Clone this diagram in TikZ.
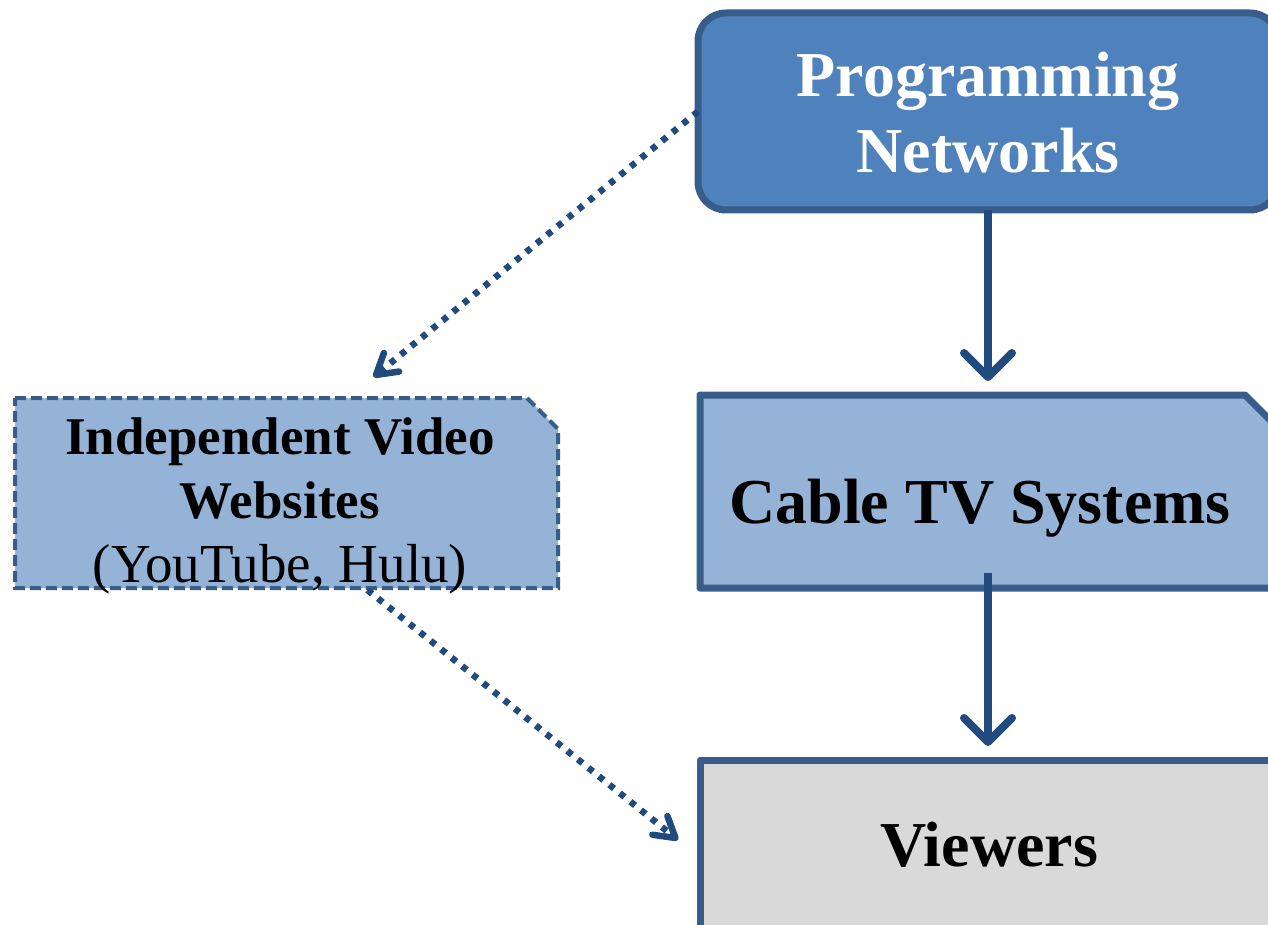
\documentclass[tikz,border=0pt]{standalone}
\usepackage{fontspec}
\setmainfont{Liberation Serif}
\usetikzlibrary{arrows.meta,calc}
\definecolor{bord}{RGB}{56,93,138}
\definecolor{progfill}{RGB}{79,129,189}
\definecolor{lightfill}{RGB}{149,179,215}
\definecolor{greyfill}{RGB}{217,217,217}
\definecolor{arrowc}{RGB}{33,74,126}
\begin{document}
\begin{tikzpicture}[x=1pt,y=-1pt,
  boxframe/.style={draw=none,inner sep=0pt,outer sep=0pt,rectangle},
  solidbox/.style={draw=bord,line width=7pt,line join=round},
  dashbox/.style={draw=bord,line width=4pt,dash pattern=on 11pt off 5pt},
  bigtxt/.style={font=\fontsize{64}{76}\selectfont\bfseries,anchor=base,inner sep=0pt},
  midtxt/.style={font=\fontsize{53}{62}\selectfont\bfseries,anchor=base,inner sep=0pt},
  midreg/.style={font=\fontsize{55}{62}\selectfont,anchor=base,inner sep=0pt},
  solidarrow/.style={draw=arrowc,line width=8pt,-{Straight Barb[length=24pt,width=48pt,round]}},
  dotarrow/.style={draw=arrowc,line width=6.5pt,dash pattern=on 6pt off 7.5pt,-{Straight Barb[length=20pt,width=24pt,round]}}
]
\useasboundingbox (0,0) rectangle (1268,925);
\clip (0,0) rectangle (1268,925);

% boxes
\node[boxframe,minimum width=580pt,minimum height=197pt] (prog) at (988,111.5) {};
\node[boxframe,minimum width=578pt,minimum height=193pt] (cable) at (989,491.5) {};
\node[boxframe,minimum width=543pt,minimum height=190pt] (indep) at (286.5,493) {};
\node[boxframe,minimum width=578pt,minimum height=200pt] (viewers) at (989,860) {};

\draw[solidbox,fill=progfill,rounded corners=28pt] (prog.north west) rectangle (prog.south east);
\draw[solidbox,fill=lightfill] (cable.north west) -- ($(cable.north east)+(-33,0)$) -- ($(cable.north east)+(0,33)$) -- (cable.south east) -- (cable.south west) -- cycle;
\draw[dashbox,fill=lightfill] (indep.north west) -- ($(indep.north east)+(-31,0)$) -- ($(indep.north east)+(0,31)$) -- (indep.south east) -- (indep.south west) -- cycle;
\draw[solidbox,fill=greyfill] (viewers.north west) rectangle (viewers.south east);

% texts
\node[bigtxt,text=white] (progA) at (988,97) {Programming};
\node[bigtxt,text=white] (progB) at (988,173) {Networks};
\node[bigtxt] (cableT) at (980,523) {Cable TV Systems};
\node[bigtxt] (viewT) at (989,866) {Viewers};
\node[midtxt] (indA) at (280,454) {Independent Video};
\node[midtxt] (indB) at (280,518) {Websites};
\node[midreg] (indC) at (280,582) {(YouTube, Hulu)};

% connectors
\draw[solidarrow] (prog.south) -- ($(cable.north)+(-1,-14)$);
\draw[solidarrow] ($(cable.south)+(-1,-15)$) -- ($(viewers.north)+(-1,-14)$);
\draw[dotarrow] (prog.west) -- ($(indep.north)+(87,-21)$);
\draw[dotarrow] ($(indep.south)+(81,2)$) -- ($(viewers.west)+(-22,-20)$);
\end{tikzpicture}
\end{document}
